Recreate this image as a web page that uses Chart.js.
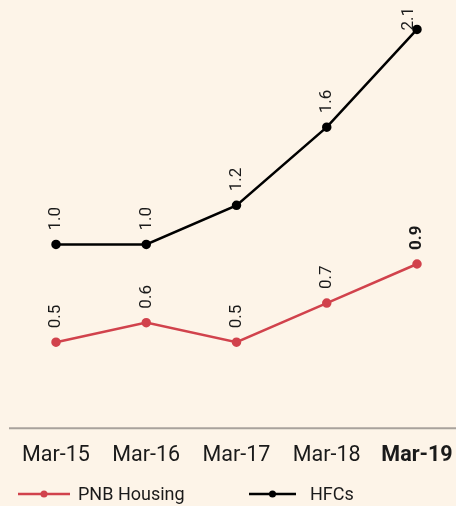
<!DOCTYPE html>
<html><head><meta charset="utf-8">
<script src="https://cdn.jsdelivr.net/npm/chart.js@4"></script>
<style>html,body{margin:0;padding:0;background:#fdf4e8;overflow:hidden}#w{width:456px;height:506px}</style>
</head><body><div id="w"><canvas id="c" width="456" height="506"></canvas></div>
<script>
const categories = ["Mar-15","Mar-16","Mar-17","Mar-18","Mar-19"];
const pnbHousing = [0.5, 0.6, 0.5, 0.7, 0.9];
const hfcs = [1.0, 1.0, 1.2, 1.6, 2.1];
const seriesNames = ["PNB Housing","HFCs"];
const FONT = "Roboto";

const labelPlugin = {
  id:'labels',
  afterDatasetsDraw(chart){
    const ctx = chart.ctx;
    chart.data.datasets.forEach((ds,di)=>{
      const meta = chart.getDatasetMeta(di);
      meta.data.forEach((pt,i)=>{
        const last = i===ds.data.length-1;
        const bold = (di===0 && last);
        ctx.save();
        if (di===1 && last) ctx.translate(pt.x-8, pt.y+1);
        else ctx.translate(pt.x, pt.y-14);
        ctx.rotate(-Math.PI/2);
        ctx.font = (bold?"bold ":"")+"17px "+FONT;
        ctx.fillStyle = "#1a1a1a";
        ctx.textAlign = "left";
        ctx.textBaseline = "middle";
        ctx.fillText(ds.data[i].toFixed(1),0,0);
        ctx.restore();
      });
    });
  },
  afterDraw(chart){
    const ctx = chart.ctx;
    const y = chart.chartArea.bottom;
    ctx.save();
    ctx.strokeStyle = "#a8a29c";
    ctx.lineWidth = 2;
    ctx.beginPath(); ctx.moveTo(9,y); ctx.lineTo(456,y); ctx.stroke();
    const items = [{x0:18,x1:70,tx:78},{x0:249,x1:296,tx:310}];
    chart.data.datasets.forEach((ds,di)=>{
      const it = items[di]; const ly = 494;
      ctx.strokeStyle = ds.borderColor; ctx.lineWidth = 2.5;
      ctx.beginPath(); ctx.moveTo(it.x0,ly); ctx.lineTo(it.x1,ly); ctx.stroke();
      ctx.fillStyle = ds.borderColor;
      ctx.beginPath(); ctx.arc((it.x0+it.x1)/2,ly,3.5,0,Math.PI*2); ctx.fill();
      ctx.fillStyle = "#1a1a1a"; ctx.font = "18px "+FONT;
      ctx.textAlign="left"; ctx.textBaseline="middle";
      ctx.fillText(ds.label,it.tx,ly+1);
    });
    ctx.restore();
  }
};

new Chart(document.getElementById('c'),{
  type:'line',
  data:{labels:categories,datasets:[
    {label:seriesNames[0],data:pnbHousing,borderColor:"#d1424c",backgroundColor:"#d1424c",borderWidth:2.5,pointRadius:3.5,pointHoverRadius:3.5,tension:0,clip:false},
    {label:seriesNames[1],data:hfcs,borderColor:"#000000",backgroundColor:"#000000",borderWidth:2.5,pointRadius:3.5,pointHoverRadius:3.5,tension:0,clip:false}
  ]},
  options:{
    responsive:false,animation:false,
    layout:{padding:{left:56,right:39,top:0,bottom:30}},
    plugins:{legend:{display:false},tooltip:{enabled:false}},
    scales:{
      x:{offset:false,grid:{display:false},border:{display:false},
        afterFit(s){s.paddingLeft=0;s.paddingRight=0;},
        ticks:{padding:7,color:"#1a1a1a",autoSkip:false,maxRotation:0,
          font:(c)=>({family:FONT,size:21.5,weight:c.index===4?'bold':'normal'})}},
      y:{display:false,min:0.06,max:2.22}
    }
  },
  plugins:[labelPlugin]
});
</script></body></html>
